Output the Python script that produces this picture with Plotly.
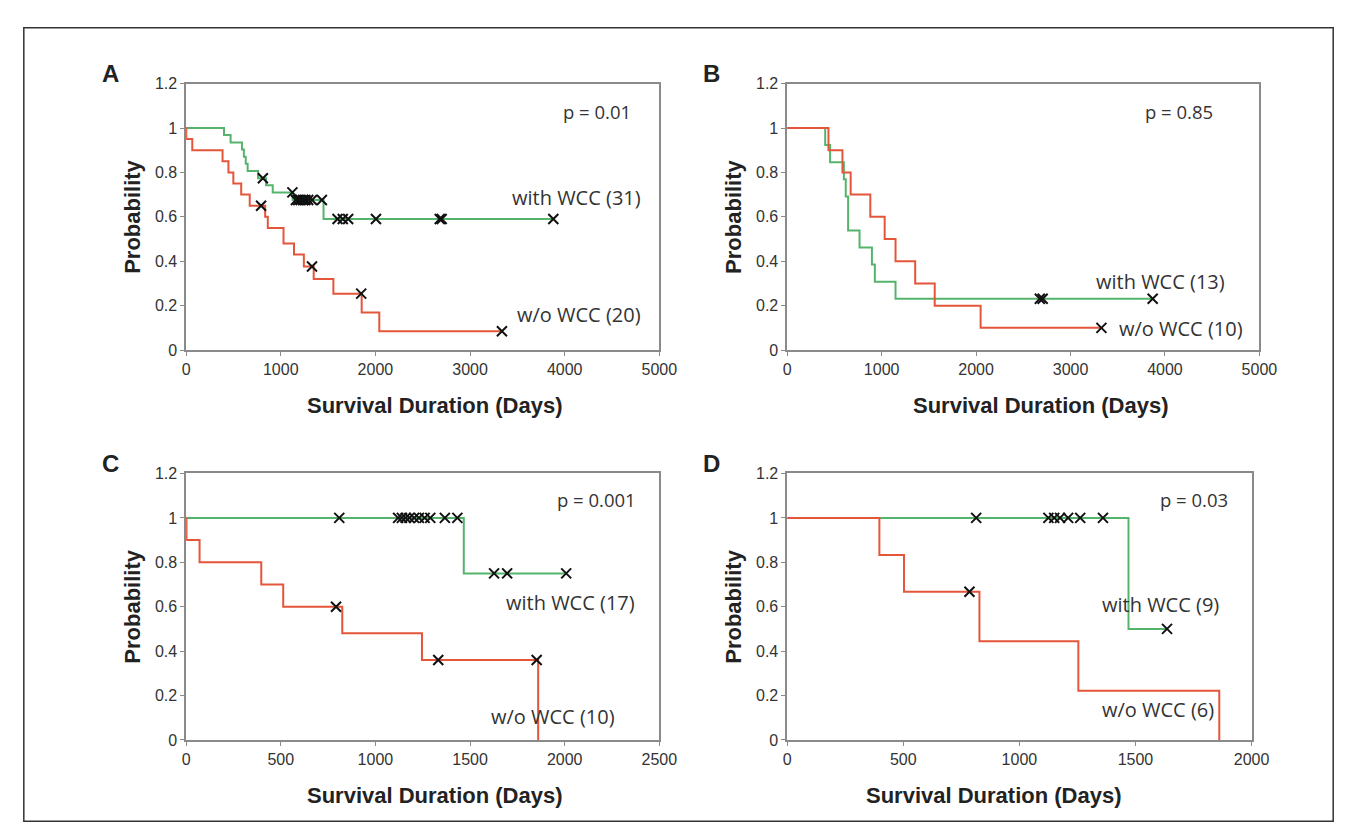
import plotly.graph_objects as go

# ---------------- data ----------------
# Panel A
A_with_t = [0, 400, 470, 590, 610, 630, 650, 760, 845, 915, 1125, 1452, 3880]
A_with_s = [1, 0.968, 0.935, 0.903, 0.871, 0.839, 0.806, 0.774, 0.742, 0.710, 0.676, 0.59, 0.59]
A_with_ct = [811, 1123, 1160, 1185, 1210, 1235, 1260, 1290, 1330, 1434, 1600, 1655, 1712, 2006, 2680, 2700, 3880]
A_with_cs = [0.774, 0.710, 0.676, 0.676, 0.676, 0.676, 0.676, 0.676, 0.676, 0.676, 0.59, 0.59, 0.59, 0.59, 0.59, 0.59, 0.59]
A_wo_t = [0, 2, 65, 385, 447, 499, 582, 672, 835, 863, 1029, 1140, 1244, 1348, 1556, 1855, 2041, 3337]
A_wo_s = [1, 0.95, 0.90, 0.85, 0.80, 0.75, 0.70, 0.65, 0.60, 0.55, 0.48, 0.43, 0.376, 0.32, 0.254, 0.169, 0.085, 0.085]
A_wo_ct = [792, 1330, 1850, 3337]
A_wo_cs = [0.65, 0.376, 0.254, 0.085]

# Panel B
B_with_t = [0, 402, 454, 600, 620, 645, 766, 897, 928, 1147, 3870]
B_with_s = [1, 0.923, 0.846, 0.769, 0.692, 0.538, 0.462, 0.385, 0.308, 0.231, 0.231]
B_with_ct = [2675, 2705, 3870]
B_with_cs = [0.231, 0.231, 0.231]
B_wo_t = [0, 437, 585, 672, 880, 1032, 1147, 1355, 1562, 2048, 3327]
B_wo_s = [1, 0.9, 0.8, 0.7, 0.6, 0.5, 0.4, 0.3, 0.2, 0.1, 0.1]
B_wo_ct = [3327]
B_wo_cs = [0.1]

# Panel C
C_with_t = [0, 1467, 2008]
C_with_s = [1, 0.75, 0.75]
C_with_ct = [809, 1120, 1140, 1160, 1180, 1205, 1230, 1260, 1290, 1367, 1433, 1627, 1696, 2008]
C_with_cs = [1, 1, 1, 1, 1, 1, 1, 1, 1, 1, 1, 0.75, 0.75, 0.75]
C_wo_t = [0, 2, 71, 397, 513, 825, 1246, 1860]
C_wo_s = [1, 0.9, 0.8, 0.7, 0.6, 0.48, 0.36, 0]
C_wo_ct = [792, 1332, 1852]
C_wo_cs = [0.6, 0.36, 0.36]

# Panel D
D_with_t = [0, 1470, 1636]
D_with_s = [1, 0.5, 0.5]
D_with_ct = [814, 1125, 1150, 1175, 1210, 1262, 1360, 1636]
D_with_cs = [1, 1, 1, 1, 1, 1, 1, 0.5]
D_wo_t = [0, 397, 503, 828, 1254, 1861]
D_wo_s = [1, 0.833, 0.667, 0.444, 0.222, 0]
D_wo_ct = [785]
D_wo_cs = [0.667]

y_ticks = [0, 0.2, 0.4, 0.6, 0.8, 1, 1.2]
y_ticktext = ["0", "0.2", "0.4", "0.6", "0.8", "1", "1.2"]
x_ticks_AB = [0, 1000, 2000, 3000, 4000, 5000]
x_ticks_C = [0, 500, 1000, 1500, 2000, 2500]
x_ticks_D = [0, 500, 1000, 1500, 2000]

panel_letters = ["A", "B", "C", "D"]
p_texts = ["p = 0.01", "p = 0.85", "p = 0.001", "p = 0.03"]
with_labels = ["with WCC (31)", "with WCC (13)", "with WCC (17)", "with WCC (9)"]
wo_labels = ["w/o WCC (20)", "w/o WCC (10)", "w/o WCC (10)", "w/o WCC (6)"]
x_title = "Survival Duration (Days)"
y_title = "Probability"

# ---------------- layout geometry ----------------
W, H = 1355, 834
GREEN = "#55b46c"
RED = "#e4553a"
AXC = "#8a8a8a"

def fx(px):
    return px / W

def fy(py):
    return 1 - py / H

panels = [
    dict(x0=177, x1=658, y0=69, y1=341, xr=[0, 5000], xt=x_ticks_AB,
         data=(A_with_t, A_with_s, A_with_ct, A_with_cs, A_wo_t, A_wo_s, A_wo_ct, A_wo_cs),
         p=(4345, 1.075), w=(4127, 0.687), o=(4150, 0.159), xtx=430),
    dict(x0=788, x1=1268, y0=69, y1=341, xr=[0, 5000], xt=x_ticks_AB,
         data=(B_with_t, B_with_s, B_with_ct, B_with_cs, B_wo_t, B_wo_s, B_wo_ct, B_wo_cs),
         p=(4152, 1.075), w=(3954, 0.308), o=(4172, 0.097), xtx=1046),
    dict(x0=177, x1=658, y0=467, y1=739, xr=[0, 2500], xt=x_ticks_C,
         data=(C_with_t, C_with_s, C_with_ct, C_with_cs, C_wo_t, C_wo_s, C_wo_ct, C_wo_cs),
         p=(2167, 1.084), w=(2032, 0.621), o=(1939, 0.106), xtx=430),
    dict(x0=788, x1=1260, y0=467, y1=739, xr=[0, 2000], xt=x_ticks_D,
         data=(D_with_t, D_with_s, D_with_ct, D_with_cs, D_wo_t, D_wo_s, D_wo_ct, D_wo_cs),
         p=(1754, 1.084), w=(1606, 0.612), o=(1597, 0.136), xtx=998),
]

fig = go.Figure()
annotations = []
layout_axes = {}

def ann(x, y, text, font, xref="paper", yref="paper", **kw):
    d = dict(x=x, y=y, xref=xref, yref=yref, text=text, showarrow=False, font=font,
             xanchor="center", yanchor="middle")
    d.update(kw)
    return d

for i, pn in enumerate(panels):
    k = "" if i == 0 else str(i + 1)
    xa, ya = "x" + k, "y" + k
    wt, ws, wct, wcs, ot, os_, oct_, ocs = pn["data"]
    fig.add_trace(go.Scatter(x=wt, y=ws, mode="lines", line=dict(color=GREEN, width=2, shape="hv"),
                             xaxis=xa, yaxis=ya, showlegend=False, hoverinfo="skip"))
    fig.add_trace(go.Scatter(x=ot, y=os_, mode="lines", line=dict(color=RED, width=2, shape="hv"),
                             xaxis=xa, yaxis=ya, showlegend=False, hoverinfo="skip"))
    for ct, cs in ((wct, wcs), (oct_, ocs)):
        fig.add_trace(go.Scatter(x=ct, y=cs, mode="markers",
                                 marker=dict(symbol="x-thin", size=10, line=dict(color="#111", width=2)),
                                 xaxis=xa, yaxis=ya, showlegend=False, hoverinfo="skip"))
    axis_common = dict(showline=True, mirror=True, linecolor=AXC, linewidth=1.5,
                       ticks="outside", ticklen=4, tickcolor=AXC, tickwidth=1,
                       showgrid=False, zeroline=False,
                       tickfont=dict(family="Arial, Liberation Sans, sans-serif", size=16, color="#333"))
    layout_axes["xaxis" + k] = dict(domain=[fx(pn["x0"]), fx(pn["x1"])], range=pn["xr"],
                                    tickvals=pn["xt"], anchor=ya, **axis_common)
    layout_axes["yaxis" + k] = dict(domain=[fy(pn["y1"]), fy(pn["y0"])], range=[0, 1.2],
                                    tickvals=y_ticks, ticktext=y_ticktext, anchor=xa, **axis_common)
    p_font = dict(family="Open Sans, Noto Sans, sans-serif", size=18.5, color="#333")
    lab_font = dict(family="Open Sans, Noto Sans, sans-serif", size=20, color="#333")
    annotations.append(ann(pn["p"][0], pn["p"][1], p_texts[i], p_font, xref=xa, yref=ya))
    annotations.append(ann(pn["w"][0], pn["w"][1], with_labels[i], lab_font, xref=xa, yref=ya))
    annotations.append(ann(pn["o"][0], pn["o"][1], wo_labels[i], lab_font, xref=xa, yref=ya))
    bold = dict(family="Arial, Liberation Sans, sans-serif", size=22, color="#222")
    annotations.append(ann(fx(pn["xtx"]), fy(pn["y1"] + 57), "<b>" + x_title + "</b>", bold))
    annotations.append(ann(fx(pn["x0"] - 54), fy((pn["y0"] + pn["y1"]) / 2), "<b>" + y_title + "</b>",
                           bold, textangle=-90))
    annotations.append(ann(fx(pn["x0"] - 77), fy(pn["y0"] - 10), "<b>" + panel_letters[i] + "</b>",
                           dict(family="Arial, Liberation Sans, sans-serif", size=24, color="#222")))

fig.update_layout(
    width=W, height=H, margin=dict(l=0, r=0, t=0, b=0),
    paper_bgcolor="white", plot_bgcolor="white",
    annotations=annotations,
    shapes=[dict(type="rect", xref="paper", yref="paper", x0=fx(12), x1=fx(1343), y0=fy(822), y1=fy(12),
                 line=dict(color="#333", width=1.5), fillcolor="rgba(0,0,0,0)")],
    **layout_axes,
)

fig.write_html("out.html")
